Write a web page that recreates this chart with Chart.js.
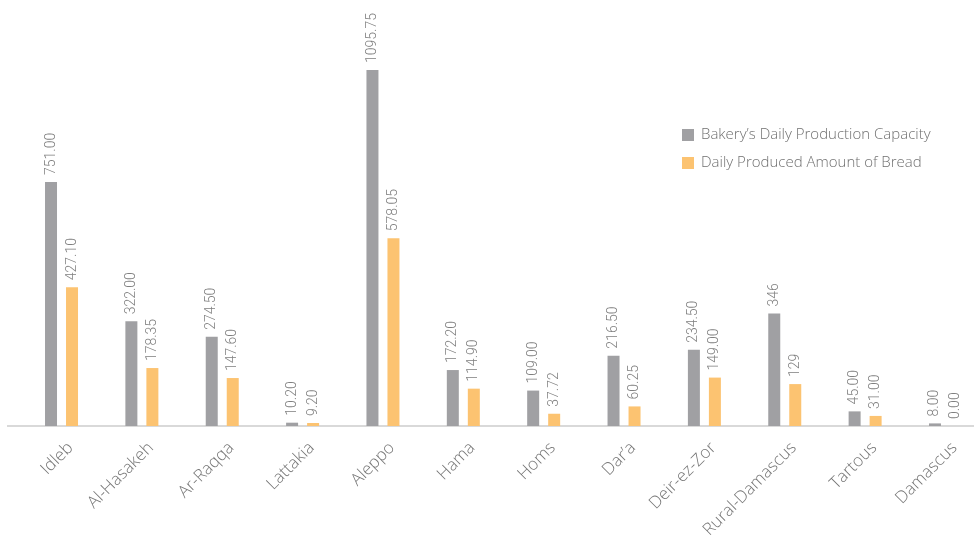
<!DOCTYPE html>
<html lang="en">
<head>
    <meta charset="UTF-8">
    <title>Bakery production by governorate</title>
    <script src="https://cdn.jsdelivr.net/npm/chart.js"></script>
    <style>
        html, body { margin: 0; padding: 0; background: #ffffff; }
        #wrap { width: 974px; height: 544px; }
    </style>
</head>
<body>
    <div id="wrap">
        <canvas id="bakeryChart" width="974" height="544"></canvas>
    </div>

    <script>
        // governorates along the x axis
        const governorates = ['Idleb', 'Al-Hasakeh', 'Ar-Raqqa', 'Lattakia', 'Aleppo', 'Hama', 'Homs',
            'Dar’a', 'Deir-ez-Zor', 'Rural-Damascus', 'Tartous', 'Damascus'];

        // bakery daily production capacity
        const capacity = [751.00, 322.00, 274.50, 10.20, 1095.75, 172.20, 109.00, 216.50, 234.50, 346, 45.00, 8.00];

        // daily produced amount of bread
        const produced = [427.10, 178.35, 147.60, 9.20, 578.05, 114.90, 37.72, 60.25, 149.00, 129, 31.00, 0.00];

        // these were reported as whole numbers
        const wholeNumberRows = ['Rural-Damascus'];

        const seriesNames = ['Bakery’s Daily Production Capacity', 'Daily Produced Amount of Bread'];
        const seriesColors = ['#a0a0a3', '#fcc371'];

        function valueText(v, i) {
            return wholeNumberRows.includes(governorates[i]) ? String(v) : v.toFixed(2);
        }

        // vertical value labels above each bar
        const barValues = {
            id: 'barValues',
            afterDatasetsDraw(chart) {
                const ctx = chart.ctx;
                ctx.save();
                ctx.font = '300 14px Roboto';
                ctx.fillStyle = '#7f7f7f';
                ctx.textAlign = 'left';
                ctx.textBaseline = 'middle';
                chart.data.datasets.forEach((ds, d) => {
                    chart.getDatasetMeta(d).data.forEach((bar, i) => {
                        ctx.save();
                        ctx.translate(bar.x, bar.y - 7);
                        ctx.rotate(-Math.PI / 2);
                        ctx.fillText(valueText(ds.data[i].y, i), 0, 0);
                        ctx.restore();
                    });
                });
                ctx.restore();
            }
        };

        // legend block on the right inside the plot
        const sideLegend = {
            id: 'sideLegend',
            afterDraw(chart) {
                const ctx = chart.ctx;
                ctx.save();
                ctx.font = '300 15px "Open Sans"';
                ctx.textBaseline = 'middle';
                chart.data.datasets.forEach((ds, d) => {
                    const y = 135 + d * 28;
                    ctx.fillStyle = ds.backgroundColor;
                    ctx.fillRect(682, y - 6, 12, 12);
                    ctx.fillStyle = '#707070';
                    ctx.fillText(ds.label, 701, y);
                });
                ctx.restore();
            }
        };

        const ctx = document.getElementById('bakeryChart').getContext('2d');
        new Chart(ctx, {
            type: 'bar',
            data: {
                datasets: [
                    {
                        label: seriesNames[0],
                        data: capacity.map((v, i) => ({ x: i, y: v })),
                        backgroundColor: seriesColors[0]
                    },
                    {
                        label: seriesNames[1],
                        data: produced.map((v, i) => ({ x: i, y: v })),
                        backgroundColor: seriesColors[1]
                    }
                ]
            },
            options: {
                responsive: false,
                animation: false,
                categoryPercentage: 0.5227,
                barPercentage: 0.5714,
                layout: { padding: { left: 8, right: 0, top: 0, bottom: 0 } },
                plugins: {
                    legend: { display: false },
                    tooltip: { enabled: false }
                },
                scales: {
                    x: {
                        type: 'linear',
                        offset: false,
                        min: -0.666,
                        max: 11.355,
                        grid: { display: false },
                        border: { display: true, color: '#d9d9d9', width: 2 },
                        afterBuildTicks: axis => {
                            axis.ticks = governorates.map((g, i) => ({ value: i }));
                        },
                        afterFit: axis => { axis.height = 118; },
                        ticks: {
                            autoSkip: false,
                            minRotation: 45,
                            maxRotation: 45,
                            padding: 4,
                            labelOffset: 9,
                            color: '#767676',
                            font: { family: 'Open Sans', size: 17, weight: '300' },
                            callback: v => governorates[v]
                        }
                    },
                    y: {
                        display: false,
                        min: 0,
                        max: 1311
                    }
                }
            },
            plugins: [barValues, sideLegend]
        });
    </script>
</body>
</html>
